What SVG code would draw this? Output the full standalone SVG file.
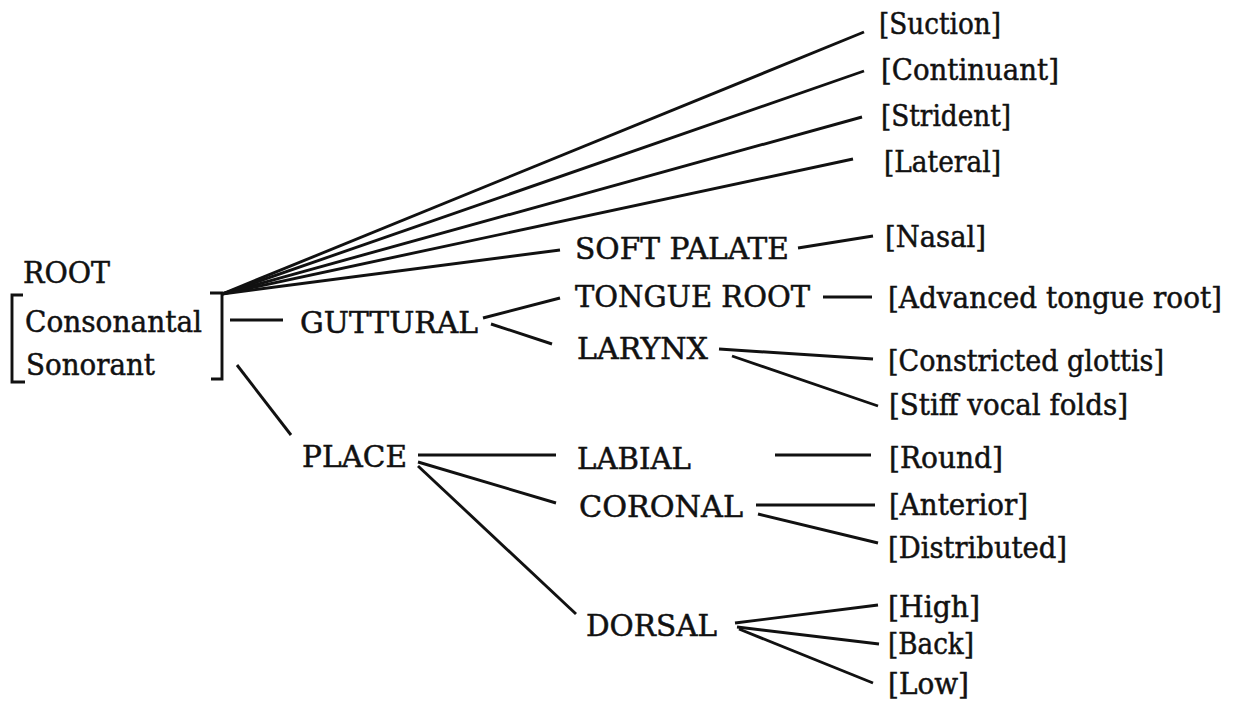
<svg xmlns="http://www.w3.org/2000/svg" width="1239" height="704" viewBox="0 0 1239 704">
<style>
text{font-family:"DejaVu Serif","Liberation Serif",serif;font-size:29px;fill:#111;stroke:#111;stroke-width:0.5;}
.c line,.c path{stroke:#111;stroke-width:2.9;fill:none;stroke-linecap:butt;}
.br{stroke:#111;stroke-width:2.9;fill:none;}
</style>
<rect width="1239" height="704" fill="#fff"/>
<g id="root">
<text x="23" y="283" textLength="87" lengthAdjust="spacingAndGlyphs">ROOT</text>
<path class="br" d="M23,295 H12 V382 H25"/>
<path class="br" d="M210,293 H222 V379 H211"/>
<text x="25" y="332" textLength="177" lengthAdjust="spacingAndGlyphs">Consonantal</text>
<text x="26" y="375" textLength="129" lengthAdjust="spacingAndGlyphs">Sonorant</text>
</g>
<g id="guttural"><text x="300" y="333" textLength="178" lengthAdjust="spacingAndGlyphs">GUTTURAL</text></g>
<g id="place"><text x="302" y="467" textLength="105" lengthAdjust="spacingAndGlyphs">PLACE</text></g>
<g id="softpalate"><text x="575" y="259" textLength="214" lengthAdjust="spacingAndGlyphs">SOFT PALATE</text></g>
<g id="tongueroot"><text x="575" y="307" textLength="235" lengthAdjust="spacingAndGlyphs">TONGUE ROOT</text></g>
<g id="larynx"><text x="577" y="359" textLength="131" lengthAdjust="spacingAndGlyphs">LARYNX</text></g>
<g id="labial"><text x="577" y="469" textLength="114" lengthAdjust="spacingAndGlyphs">LABIAL</text></g>
<g id="coronal"><text x="579" y="517" textLength="164" lengthAdjust="spacingAndGlyphs">CORONAL</text></g>
<g id="dorsal"><text x="586" y="636" textLength="131" lengthAdjust="spacingAndGlyphs">DORSAL</text></g>
<g id="suction"><text x="879" y="34" textLength="122" lengthAdjust="spacingAndGlyphs">[Suction]</text></g>
<g id="continuant"><text x="881" y="80" textLength="178" lengthAdjust="spacingAndGlyphs">[Continuant]</text></g>
<g id="strident"><text x="881" y="126" textLength="130" lengthAdjust="spacingAndGlyphs">[Strident]</text></g>
<g id="lateral"><text x="884" y="172" textLength="117" lengthAdjust="spacingAndGlyphs">[Lateral]</text></g>
<g id="nasal"><text x="885" y="247" textLength="101" lengthAdjust="spacingAndGlyphs">[Nasal]</text></g>
<g id="atr"><text x="888" y="308" textLength="334" lengthAdjust="spacingAndGlyphs">[Advanced tongue root]</text></g>
<g id="cg"><text x="888" y="371" textLength="276" lengthAdjust="spacingAndGlyphs">[Constricted glottis]</text></g>
<g id="svf"><text x="889" y="415" textLength="239" lengthAdjust="spacingAndGlyphs">[Stiff vocal folds]</text></g>
<g id="round"><text x="889" y="468" textLength="114" lengthAdjust="spacingAndGlyphs">[Round]</text></g>
<g id="anterior"><text x="889" y="515" textLength="139" lengthAdjust="spacingAndGlyphs">[Anterior]</text></g>
<g id="distributed"><text x="888" y="558" textLength="179" lengthAdjust="spacingAndGlyphs">[Distributed]</text></g>
<g id="high"><text x="888" y="617" textLength="92" lengthAdjust="spacingAndGlyphs">[High]</text></g>
<g id="back"><text x="888" y="654" textLength="86" lengthAdjust="spacingAndGlyphs">[Back]</text></g>
<g id="low"><text x="888" y="694" textLength="81" lengthAdjust="spacingAndGlyphs">[Low]</text></g>
<g id="connectors" class="c">
<line x1="222" y1="294" x2="864" y2="32"/>
<line x1="222" y1="294" x2="864" y2="71"/>
<line x1="222" y1="294" x2="862" y2="117"/>
<line x1="222" y1="294" x2="853" y2="159"/>
<line x1="222" y1="294" x2="560" y2="250"/>
<line x1="230" y1="320" x2="283" y2="320"/>
<line x1="237" y1="365" x2="291" y2="435"/>
<line x1="483" y1="318" x2="560" y2="298"/>
<line x1="491" y1="324" x2="552" y2="344"/>
<line x1="798" y1="248" x2="873" y2="236"/>
<line x1="823" y1="297" x2="872" y2="297"/>
<line x1="719" y1="349" x2="873" y2="359"/>
<line x1="732" y1="356" x2="878" y2="406"/>
<line x1="418" y1="455" x2="556" y2="455"/>
<line x1="775" y1="455" x2="871" y2="455"/>
<line x1="418" y1="462" x2="556" y2="503"/>
<line x1="418" y1="466" x2="576" y2="614"/>
<line x1="756" y1="505" x2="875" y2="505"/>
<line x1="758" y1="514" x2="878" y2="543"/>
<line x1="735" y1="623" x2="878" y2="605"/>
<line x1="737" y1="627" x2="879" y2="644"/>
<line x1="739" y1="629" x2="873" y2="683"/>
</g>
</svg>
